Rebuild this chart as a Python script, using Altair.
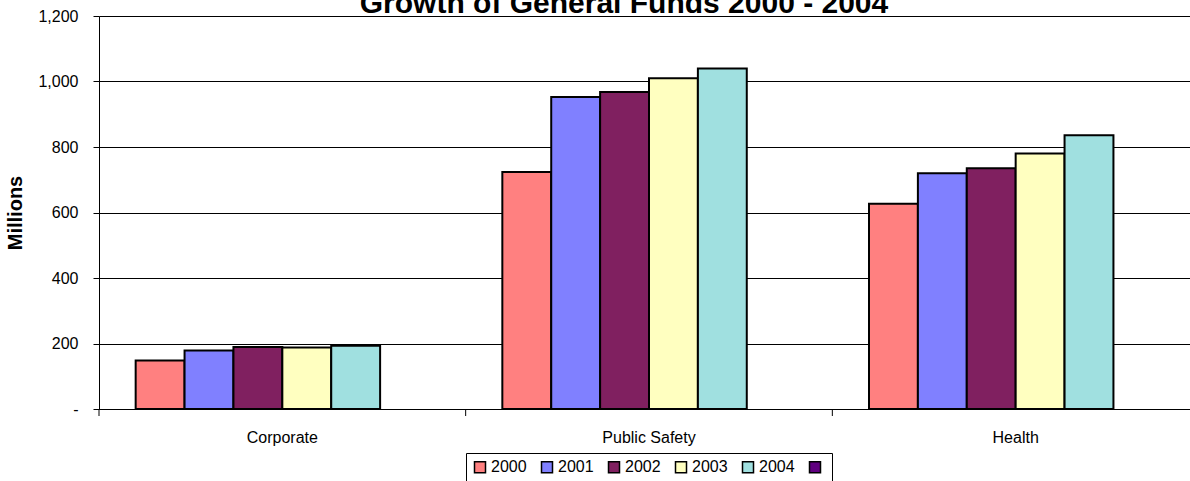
import altair as alt
import pandas as pd

# General fund spending by department, in millions
categories = ["Corporate", "Public Safety", "Health"]
series = ["2000", "2001", "2002", "2003", "2004", " "]
colors = ["#FF8080", "#8080FF", "#802060", "#FFFFC0", "#A0E0E0", "#600080"]

funds_2000 = [148, 724, 627]
funds_2001 = [179, 953, 720]
funds_2002 = [189, 968, 735]
funds_2003 = [188, 1010, 780]
funds_2004 = [193, 1040, 836]

y_ticks = [0, 200, 400, 600, 800, 1000, 1200]
title_text = "Growth of General Funds 2000 - 2004"

rows = []
for yr, vals in zip(series[:5], [funds_2000, funds_2001, funds_2002, funds_2003, funds_2004]):
    for cat, v in zip(categories, vals):
        rows.append({"Fund": cat, "Year": yr, "Millions": v})
df = pd.DataFrame(rows)

FONT = "Liberation Sans"

x_scale = alt.Scale(domain=categories, range=[0, 1100], paddingInner=0, paddingOuter=0)

bars = alt.Chart(df).mark_bar(stroke="black", strokeWidth=2).encode(
    x=alt.X(
        "Fund:N",
        scale=x_scale,
        sort=categories,
        axis=alt.Axis(
            title=None, labelAngle=0, ticks=False, labelPadding=20,
            labelFontSize=16, labelFont=FONT, labelColor="black",
            domainColor="black", domainWidth=1, grid=False,
        ),
    ),
    xOffset=alt.XOffset(
        "Year:N", scale=alt.Scale(domain=series, paddingInner=0, paddingOuter=0.75)
    ),
    y=alt.Y(
        "Millions:Q",
        scale=alt.Scale(domain=[0, 1200], nice=False),
        axis=alt.Axis(
            values=y_ticks,
            labelExpr="datum.value == 0 ? '-' : format(datum.value, ',')",
            title="Millions", titleFont=FONT, titleFontSize=20, titleFontWeight="bold",
            titleColor="black", titlePadding=12,
            labelFont=FONT, labelFontSize=16, labelColor="black", labelPadding=15,
            tickColor="black", tickSize=6, domainColor="black",
            grid=True, gridColor="black", gridWidth=1,
        ),
    ),
    color=alt.Color(
        "Year:N",
        scale=alt.Scale(domain=series, range=colors),
        legend=alt.Legend(
            title=None, orient="none", legendX=367, legendY=437,
            direction="horizontal", symbolType="square", symbolSize=121,
            symbolStrokeColor="black", symbolStrokeWidth=1.5, symbolOpacity=1,
            labelFont=FONT, labelFontSize=16, labelColor="black", labelOffset=3,
            columnPadding=11, padding=6, strokeColor="black", fillColor="white",
        ),
    ),
)

# category separator ticks below the x axis
dividers = alt.Chart(pd.DataFrame({"Fund": categories})).mark_rule(
    color="black", strokeWidth=1
).encode(
    x=alt.X("Fund:N", scale=x_scale, sort=categories, bandPosition=0),
    y=alt.value(393),
    y2=alt.value(400),
)

title = alt.Chart(pd.DataFrame({"t": [title_text]})).mark_text(
    font=FONT, fontSize=30, fontWeight="bold", color="black",
    align="center", baseline="alphabetic",
).encode(text="t:N", x=alt.value(525), y=alt.value(-3))

chart = alt.layer(bars, dividers, title).properties(
    width=1091,
    height=393,
    autosize=alt.AutoSizeParams(type="none"),
    padding={"left": 99, "top": 16, "right": 0, "bottom": 72},
).configure(background="white").configure_view(strokeWidth=0)

chart.save("out.html", embed_options={"renderer": "svg", "actions": False})
